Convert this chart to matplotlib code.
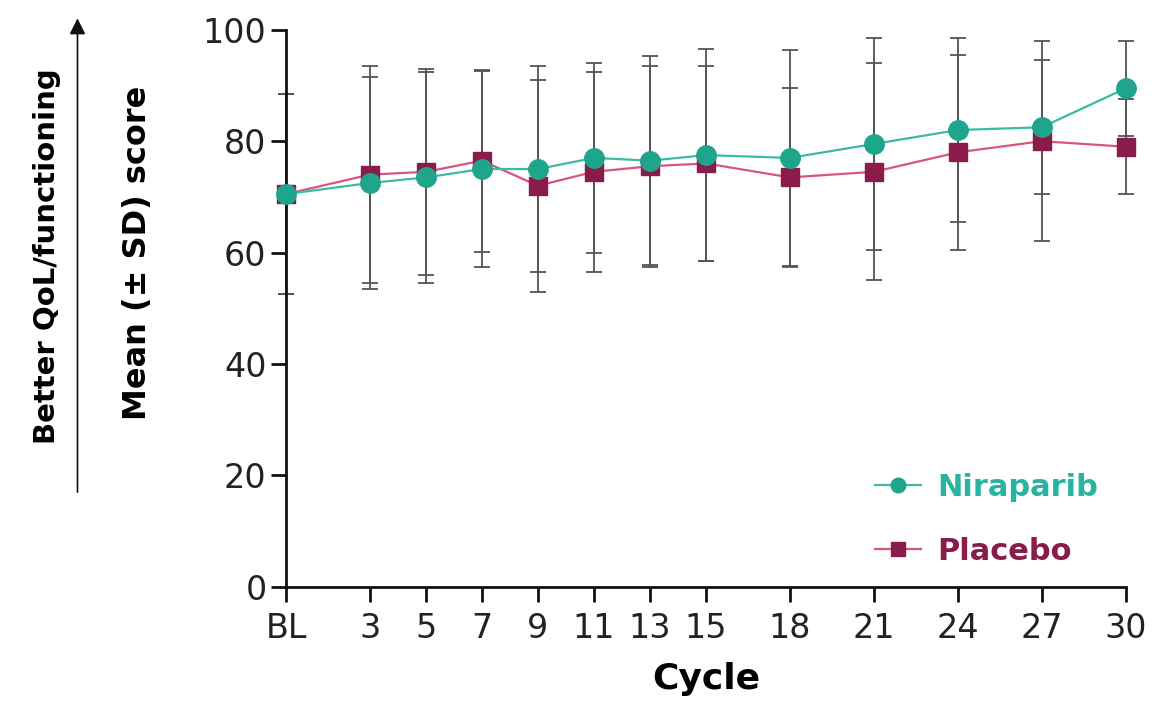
import matplotlib
matplotlib.use("Agg")
import matplotlib.pyplot as plt
import numpy as np

plt.rcParams['font.family'] = ['DejaVu Sans']

# Data
cycles = [0, 3, 5, 7, 9, 11, 13, 15, 18, 21, 24, 27, 30]
cycle_labels = ['BL', '3', '5', '7', '9', '11', '13', '15', '18', '21', '24', '27', '30']

nir_mean = [70.5, 72.5, 73.5, 75.0, 75.0, 77.0, 76.5, 77.5, 77.0, 79.5, 82.0, 82.5, 89.5]
nir_sd = [18.0, 19.0, 19.0, 17.6, 18.5, 17.0, 18.7, 19.0, 19.4, 19.0, 16.5, 12.0, 8.5]

plc_mean = [70.5, 74.0, 74.5, 76.5, 72.0, 74.5, 75.5, 76.0, 73.5, 74.5, 78.0, 80.0, 79.0]
plc_sd = [18.0, 19.5, 18.5, 16.3, 19.0, 18.0, 18.0, 17.5, 16.0, 19.5, 17.5, 18.0, 8.5]

teal = '#1fa58c'
teal_line = '#3bbaa4'
teal_text = '#2ab3a0'
maroon = '#8a1c4c'
pink = '#d9557f'
bar_col = '#555555'

fig = plt.figure(figsize=(11.74, 7.08), dpi=100)
ax = fig.add_axes([0.2436, 0.171, 0.7154, 0.787])

# SD bars (grey) under the lines and markers
ax.errorbar(cycles, nir_mean, yerr=nir_sd, fmt='none', ecolor=bar_col,
            elinewidth=1.3, capsize=6, capthick=1.3, zorder=2, clip_on=False)
ax.errorbar(cycles, plc_mean, yerr=plc_sd, fmt='none', ecolor=bar_col,
            elinewidth=1.3, capsize=6, capthick=1.3, zorder=2, clip_on=False)

ax.plot(cycles, plc_mean, color=pink, lw=1.6, marker='s', ms=13,
        mfc=maroon, mec=maroon, label='Placebo', zorder=3, clip_on=False)
ax.plot(cycles, nir_mean, color=teal_line, lw=1.6, marker='o', ms=14,
        mfc=teal, mec=teal, label='Niraparib', zorder=4, clip_on=False)

ax.set_xlim(0, 30)
ax.set_ylim(0, 100)
ax.set_xticks(cycles)
ax.set_xticklabels(cycle_labels)
ax.set_yticks([0, 20, 40, 60, 80, 100])
ax.tick_params(axis='both', labelsize=24, length=11, width=2, color='#111111',
               labelcolor='#222222')
ax.tick_params(axis='x', pad=7)
ax.tick_params(axis='y', pad=3)

for s in ['top', 'right']:
    ax.spines[s].set_visible(False)
for s in ['left', 'bottom']:
    ax.spines[s].set_linewidth(2)
    ax.spines[s].set_color('#111111')

ax.set_xlabel('Cycle', fontsize=26, fontweight='bold', labelpad=12)

# y labels placed by hand (two stacked labels + arrow)
fig.text(0.117, 0.643, 'Mean (± SD) score', rotation=90, fontsize=23,
         fontweight='bold', ha='center', va='center')
fig.text(0.040, 0.638, 'Better QoL/functioning', rotation=90, fontsize=21,
         fontweight='bold', ha='center', va='center')
fig.patches.append(matplotlib.patches.FancyArrowPatch(
    (0.066, 0.301), (0.066, 0.978), transform=fig.transFigure,
    arrowstyle='-|>', mutation_scale=24, lw=1.2, color='#111111'))

# Legend
h, l = ax.get_legend_handles_labels()
leg = ax.legend(h[::-1], l[::-1], loc='lower right', bbox_to_anchor=(1.0, -0.012),
                frameon=False, fontsize=22, handlelength=1.5, handletextpad=0.55,
                labelspacing=1.15, markerscale=0.75)
for txt, c in zip(leg.get_texts(), [teal_text, maroon]):
    txt.set_color(c)
    txt.set_fontweight('bold')

fig.savefig('out.png', dpi=100)
